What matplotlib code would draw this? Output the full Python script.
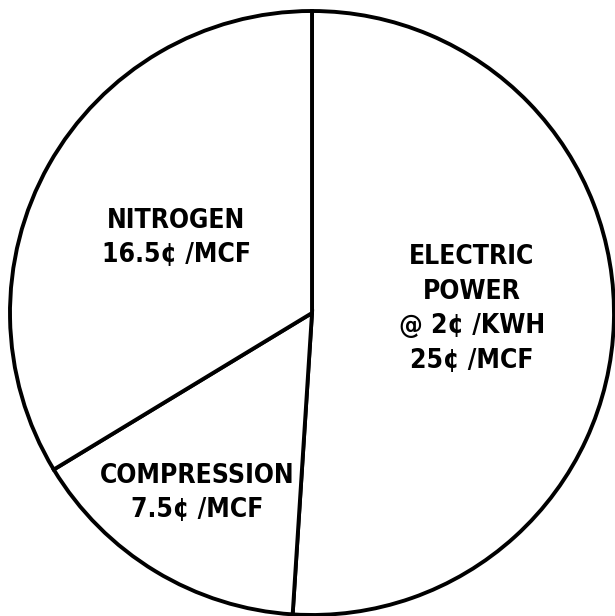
import matplotlib
matplotlib.use("Agg")
import matplotlib.pyplot as plt

categories = ["ELECTRIC\nPOWER\n@ 2¢ /KWH\n25¢ /MCF", "COMPRESSION\n7.5¢ /MCF", "NITROGEN\n16.5¢ /MCF"]
values = [25, 7.5, 16.5]

W, H = 615, 616
fig = plt.figure(figsize=(W / 100, H / 100), dpi=100)
ax = fig.add_axes([0, 0, 1, 1])
cx, cy, r = 312, H - 313, 302
wedges, _ = ax.pie(values, startangle=90, counterclock=False, radius=r, center=(cx, cy),
                   colors=["white"] * 3,
                   wedgeprops=dict(edgecolor="black", linewidth=2.8), frame=True)
ax.set_xlim(0, W)
ax.set_ylim(0, H)
ax.set_aspect("equal")
ax.axis("off")

label_pos = [(472, H - 309), (197, H - 493), (176, H - 238)]
for txt, (x, y) in zip(categories, label_pos):
    ax.text(x, y, txt, ha="center", va="center", family="DejaVu Sans", fontstretch="condensed",
            fontweight="bold", fontsize=19, linespacing=1.43, color="black")

fig.savefig("out.png", dpi=100, facecolor="white")
